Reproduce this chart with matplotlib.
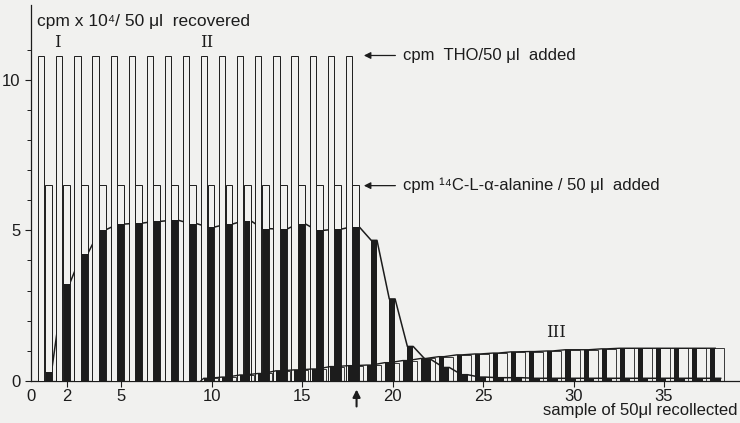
import numpy as np
import matplotlib
matplotlib.use("Agg")
import matplotlib.pyplot as plt

plt.rcParams['font.family'] = ['Liberation Sans', 'DejaVu Sans']

# samples 1..38
samples = np.arange(1, 39)
# THO and 14C-alanine added (samples 1..18)
added_samples = np.arange(1, 19)
tho_added = [10.8] * 18
ala_added = [6.5] * 18

# black bars (II): alanine recovered
ala_recovered = [0.28, 3.22, 4.22, 5.02, 5.21, 5.24, 5.30, 5.34, 5.23, 5.11,
                 5.21, 5.33, 5.06, 5.04, 5.23, 5.00, 5.04, 5.13, 4.67, 2.72,
                 1.14, 0.70, 0.44, 0.20, 0.12, 0.10, 0.10, 0.08, 0.08, 0.08,
                 0.08, 0.08, 0.08, 0.08, 0.08, 0.08, 0.08, 0.08]

# III: slow rising series, samples 10..38
late_samples = np.arange(10, 39)
late_recovered = [0.08, 0.12, 0.19, 0.24, 0.33, 0.36, 0.39, 0.47, 0.50, 0.52,
                  0.60, 0.67, 0.74, 0.80, 0.86, 0.89, 0.92, 0.96, 0.97, 0.99,
                  1.03, 1.03, 1.06, 1.08, 1.08, 1.08, 1.08, 1.08, 1.08]

xticks = [2, 5, 10, 15, 20, 25, 30, 35]

bg = '#f1f1ef'
ink = '#1c1c1c'

fig = plt.figure(figsize=(7.4, 4.23), dpi=100, facecolor=bg)
ax = fig.add_axes([31 / 740, 42.3 / 423, 709 / 740, 375.7 / 423])
ax.set_facecolor(bg)

# open bars (added activity)
ax.bar(added_samples - 0.43, tho_added, width=0.34, facecolor=bg,
       edgecolor=ink, linewidth=0.7, zorder=3)
ax.bar(added_samples - 0.05, ala_added, width=0.38, facecolor=bg,
       edgecolor=ink, linewidth=0.7, zorder=3)

# III open cells + black part
ax.bar(late_samples - 0.05, late_recovered, width=0.76, facecolor='none',
       edgecolor=ink, linewidth=0.6, zorder=4)
ax.bar(late_samples - 0.31, late_recovered, width=0.28, color=ink, zorder=5)

# II black bars
ax.bar(samples - 0.03, ala_recovered, width=0.33, color=ink, zorder=5)

# connecting line over tops of II bars (hidden behind open bars)
lx, ly = [], []
for s, v in zip(samples, ala_recovered):
    lx += [s - 0.19, s + 0.13]
    ly += [v, v]
ax.plot(lx, ly, color=ink, lw=1.1, zorder=2)

# connecting line for III
mx, my = [9.4], [0]
for s, v in zip(late_samples, late_recovered):
    mx += [s - 0.45, s - 0.17]
    my += [v, v]
ax.plot(mx, my, color=ink, lw=1.0, zorder=6)

ax.set_xlim(0, 39.2)
ax.set_ylim(0, 12.5)
for side in ['top', 'right']:
    ax.spines[side].set_visible(False)
ax.spines['left'].set_color(ink)
ax.spines['bottom'].set_color(ink)
ax.spines['left'].set_linewidth(0.9)
ax.spines['bottom'].set_linewidth(0.9)

ax.set_xticks(xticks)
ax.set_xticklabels([str(t) for t in xticks])
ax.set_yticks([0, 5, 10])
ax.set_yticks(np.arange(0, 12), minor=True)
ax.tick_params(axis='both', colors=ink, labelsize=12, length=4, width=0.8)
ax.tick_params(axis='y', which='minor', length=3, width=0.7, colors=ink)
ax.tick_params(axis='x', pad=2)
ax.text(0, -0.28, '0', ha='center', va='top', fontsize=12, color=ink,
        clip_on=False)

# labels
ax.text(0.33, 11.95, 'cpm x 10\u2074/ 50 \u03bcl  recovered', fontsize=12.5,
        color=ink, va='center', ha='left')
ax.text(1.44, 11.25, 'I', family='DejaVu Serif', fontsize=12, color=ink,
        ha='center', va='center')
ax.text(9.74, 11.25, 'II', family='DejaVu Serif', fontsize=12, color=ink,
        ha='center', va='center')
ax.text(29.0, 1.6, 'III', family='DejaVu Serif', fontsize=12, color=ink,
        ha='center', va='center')

ax.annotate('', xy=(18.25, 10.82), xytext=(20.3, 10.82),
            arrowprops=dict(arrowstyle='-|>', color=ink, lw=0.9,
                            mutation_scale=10))
ax.text(20.55, 10.82, 'cpm  THO/50 \u03bcl  added', fontsize=12, color=ink,
        va='center', ha='left')
ax.annotate('', xy=(18.25, 6.49), xytext=(20.3, 6.49),
            arrowprops=dict(arrowstyle='-|>', color=ink, lw=0.9,
                            mutation_scale=10))
ax.text(20.55, 6.49, 'cpm \u00b9\u2074C-L-\u03b1-alanine / 50 \u03bcl  added',
        fontsize=12, color=ink, va='center', ha='left')

ax.annotate('', xy=(18, -0.2), xytext=(18, -0.95),
            arrowprops=dict(arrowstyle='-|>', color=ink, lw=1.5,
                            mutation_scale=11),
            annotation_clip=False)
ax.text(39.05, -0.98, 'sample of 50\u03bcl recollected', fontsize=12,
        color=ink, ha='right', va='center', clip_on=False)

fig.savefig('out.png', dpi=100, facecolor=bg)
